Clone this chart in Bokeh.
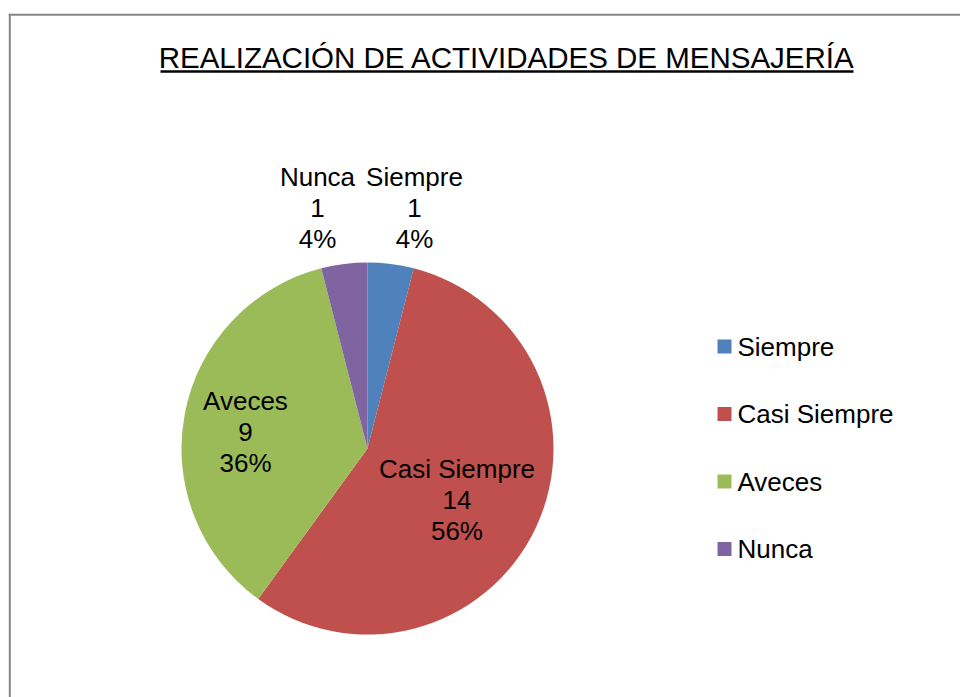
import math
from bokeh.plotting import figure
from bokeh.models import ColumnDataSource, Range1d
from bokeh.core.properties import value
from bokeh.embed import file_html
from bokeh.resources import INLINE

# ---- data ----
categories = ["Siempre", "Casi Siempre", "Aveces", "Nunca"]
counts = [1, 14, 9, 1]
percents = ["4%", "56%", "36%", "4%"]
colors = ["#4F81BD", "#C0504D", "#9BBB59", "#8064A2"]
title_text = "REALIZACIÓN DE ACTIVIDADES DE MENSAJERÍA"

# ---- layout (page pixel coordinates, y measured downward) ----
W, H = 960, 697
def py(y):  # page y -> data y
    return H - y

CX, CY, R = 367, 448, 186
label_rf = [1.317, 0.555, 0.662, 1.321]   # radial factor of label centre
label_da = [-3.86, -4.72, 3.1, 4.54]      # angular nudge in degrees
FONT = "Liberation Sans"

p = figure(width=W, height=H, output_backend="svg", toolbar_location=None,
           x_range=Range1d(0, W), y_range=Range1d(0, H),
           min_border=0, outline_line_color=None, background_fill_color="white",
           border_fill_color="white")
p.axis.visible = False
p.grid.visible = False

# outer chart frame (left and top edges visible)
p.segment(x0=[9.3, 8.3], y0=[py(13.3), py(14.3)], x1=[9.3, 962], y1=[py(700), py(14.3)],
          line_color="#868686", line_width=2)

# pie
total = sum(counts)
starts, ends, mids = [], [], []
cum = 0
for c in counts:
    a0 = math.pi / 2 - 2 * math.pi * cum / total
    cum += c
    a1 = math.pi / 2 - 2 * math.pi * cum / total
    starts.append(a0)
    ends.append(a1)
    mids.append((a0 + a1) / 2)

src = ColumnDataSource(dict(x=[CX] * len(counts), y=[py(CY)] * len(counts),
                            start=starts, end=ends, color=colors, cat=categories))
p.wedge(x="x", y="y", radius=R, start_angle="start", end_angle="end",
        direction="clock", fill_color="color", line_color=None, source=src)

# data labels
lx, ly, lt = [], [], []
for i, cat in enumerate(categories):
    a = mids[i] + math.radians(label_da[i])
    lx.append(CX + R * label_rf[i] * math.cos(a))
    ly.append(py(CY) + R * label_rf[i] * math.sin(a))
    lt.append(f"{cat}\n{counts[i]}\n{percents[i]}")
p.text(x=lx, y=ly, text=lt, text_align="center", text_baseline="middle",
       text_font=value(FONT), text_font_size="26px", text_color="#000000",
       text_line_height=1.04)

# legend (manual)
leg_x, leg_y0, leg_dy, sq = 724, 346, 67.5, 14
leg_ys = [py(leg_y0 + i * leg_dy) for i in range(len(categories))]
p.rect(x=[leg_x] * len(categories), y=leg_ys, width=sq, height=sq,
       fill_color=colors, line_color=None)
p.text(x=[leg_x + 13] * len(categories), y=leg_ys, text=categories,
       text_align="left", text_baseline="middle", text_font=value(FONT),
       text_font_size="26px", text_color="#000000")

# title with underline
p.text(x=[506.5], y=[py(57)], text=[title_text], text_align="center",
       text_baseline="middle", text_font=value(FONT), text_font_size="29.5px",
       text_color="#000000")
p.segment(x0=[160], y0=[py(71)], x1=[853], y1=[py(71)], line_color="#000000",
          line_width=2.5)

open("out.html", "w").write(file_html(p, INLINE))
